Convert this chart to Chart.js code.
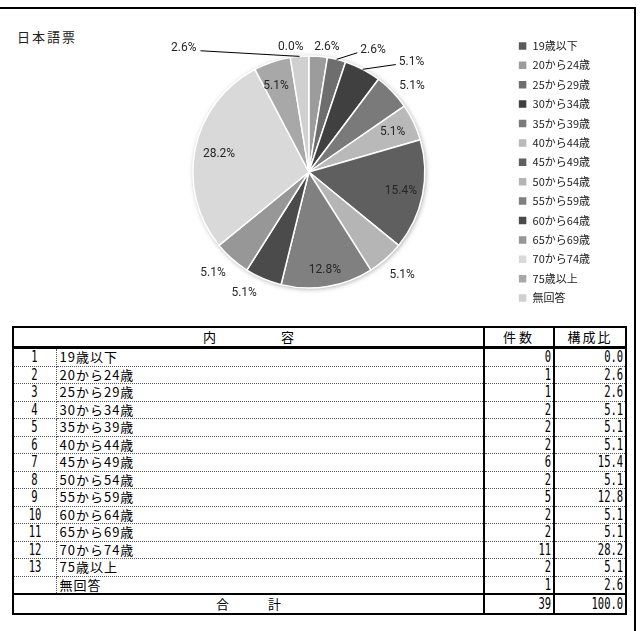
<!DOCTYPE html>
<html>
<head>
<meta charset="utf-8">
<script src="https://cdn.jsdelivr.net/npm/chart.js@4"></script>
<style>
  html, body { margin:0; padding:0; background:#fff; }
  body { width:640px; height:631px; position:relative; overflow:hidden; }
  .frame { position:absolute; left:-4px; top:7px; width:640px; height:640px; box-sizing:border-box;
           border-top:2px solid #000; border-right:2px solid #000; }
  .ttl { position:absolute; left:17px; top:27px; font:13px "Noto Sans CJK JP"; letter-spacing:2px; color:#222; line-height:19px; }
  #wrap { position:absolute; left:0; top:9px; width:636px; height:310px; }
  table.tbl { position:absolute; left:12px; top:326px; width:613px; border-collapse:collapse; table-layout:fixed;
              border:2px solid #000; font:13px "Noto Sans CJK JP"; color:#000; }
  .tbl th { font-weight:normal; height:18px; padding:0; line-height:18px; border-bottom:3px solid #000; }
  .tbl td { height:16.5px; padding:0 2px; line-height:16px; border-bottom:1px dotted #555; white-space:nowrap; }
  .tbl .c1 { text-align:center; border-right:1px dotted #555; padding:0; font-family:"DejaVu Sans Mono"; font-size:15px; }
  .tbl .c1 .num { transform-origin:center center; }
  .tbl .c2 { letter-spacing:1px; padding-left:3px; }
  .tbl .c3, .tbl .c4 { text-align:right; border-left:2px solid #000; font-family:"DejaVu Sans Mono"; font-size:15px; }
  .tbl .num { display:inline-block; transform:scaleX(0.7); transform-origin:right center; }
  .tbl tr.last td { border-bottom:2px solid #000; }
  .tbl tr.sum td { border-bottom:none; height:18px; }
  .tbl th.h3, .tbl th.h4 { border-left:2px solid #000; }
</style>
</head>
<body>
<div class="frame"></div>
<div class="ttl">日本語票</div>
<div id="wrap"><canvas id="ch-pie" width="636" height="310"></canvas></div>
<table class="tbl" id="tbl"></table>
<script>
// ---- data ----
const categories = ['19歳以下','20から24歳','25から29歳','30から34歳','35から39歳','40から44歳','45から49歳',
                    '50から54歳','55から59歳','60から64歳','65から69歳','70から74歳','75歳以上','無回答'];
const counts = [0,1,1,2,2,2,6,2,5,2,2,11,2,1];
const sliceColors = ['#595959','#9c9c9c','#6e6e6e','#404040','#7a7a7a','#b9b9b9','#5f5f5f',
                     '#b5b5b5','#808080','#4b4b4b','#979797','#d9d9d9','#a8a8a8','#d0d0d0'];

// label placement: angle (deg, clockwise from top; null = middle of slice), radius factor, leader line
const labelPos = [
  {a:-8.2, f:1.09}, {a:8.2, f:1.09}, {a:27.7, f:1.19, lead:true}, {a:42.9, f:1.30, lead:true},
  {a:50.1, f:1.16}, {a:null, f:0.80}, {a:null, f:0.81}, {a:137.9, f:1.2}, {a:null, f:0.86},
  {a:208.2, f:1.18}, {a:223.5, f:1.2}, {a:null, f:0.79}, {a:339, f:0.79}, {a:314.8, f:1.52, lead:true}
];

const total = counts.reduce((s, v) => s + v, 0);
const pct = v => (v / total * 100).toFixed(1);

// soft shadow under the pie
const pieShadow = {
  id:'pieShadow',
  beforeDatasetsDraw(chart){
    const arc = chart.getDatasetMeta(0).data[0];
    if (!arc) return;
    const ctx = chart.ctx;
    ctx.save();
    ctx.shadowColor = 'rgba(0,0,0,0.35)';
    ctx.shadowBlur = 5;
    ctx.shadowOffsetX = 1;
    ctx.shadowOffsetY = 1;
    ctx.beginPath();
    ctx.arc(arc.x, arc.y, arc.outerRadius, 0, Math.PI * 2);
    ctx.fillStyle = '#ddd';
    ctx.fill();
    ctx.restore();
  }
};

// percentage labels with leader lines
const pieLabels = {
  id:'pieLabels',
  afterDatasetsDraw(chart){
    const ctx = chart.ctx;
    const arcs = chart.getDatasetMeta(0).data;
    ctx.save();
    ctx.font = '12px Roboto';
    ctx.fillStyle = '#262626';
    ctx.textAlign = 'center';
    ctx.textBaseline = 'middle';
    arcs.forEach((arc, i) => {
      const p = labelPos[i];
      const mid = (arc.startAngle + arc.endAngle) / 2;
      const ang = p.a === null ? mid : p.a * Math.PI / 180 - Math.PI / 2;
      const R = arc.outerRadius;
      const lx = arc.x + Math.cos(ang) * R * p.f;
      const ly = arc.y + Math.sin(ang) * R * p.f;
      const txt = pct(counts[i]) + '%';
      if (p.lead) {
        const hw = ctx.measureText(txt).width / 2;
        const sx = arc.x + Math.cos(mid) * R;
        const sy = arc.y + Math.sin(mid) * R;
        const ex = lx < arc.x ? lx + hw + 4 : lx - hw - 3;
        ctx.beginPath();
        ctx.moveTo(sx, sy);
        ctx.lineTo(ex, ly + 3);
        ctx.strokeStyle = '#000';
        ctx.lineWidth = 1;
        ctx.stroke();
      }
      ctx.fillText(txt, lx, ly);
    });
    ctx.restore();
  }
};

new Chart(document.getElementById('ch-pie'), {
  type:'pie',
  data:{
    labels:categories,
    datasets:[{data:counts, backgroundColor:sliceColors, borderColor:'#fff', borderWidth:1.5}]
  },
  options:{
    responsive:false, animation:false, devicePixelRatio:1,
    radius:116,
    layout:{padding:{left:108, right:36, top:16, bottom:0}},
    plugins:{
      legend:{position:'right', labels:{boxWidth:9, boxHeight:9, padding:8.4, color:'#222',
              font:{family:'"Noto Sans CJK JP"', size:11}}},
      tooltip:{enabled:false}
    }
  },
  plugins:[pieShadow, pieLabels]
});

// table under the chart
let h = '<colgroup><col style="width:43px"><col style="width:428px"><col style="width:70px"><col style="width:72px"></colgroup>';
h += '<tr><th colspan="2">内　　　　　容</th><th class="h3" style="letter-spacing:3px">件数</th><th class="h4" style="letter-spacing:2px">構成比</th></tr>';
categories.forEach((c, i) => {
  const no = i < categories.length - 1 ? (i + 1) : '';
  h += `<tr${i === categories.length - 1 ? ' class="last"' : ''}>
    <td class="c1"><span class="num">${no}</span></td><td class="c2">${c}</td>
    <td class="c3"><span class="num">${counts[i]}</span></td><td class="c4"><span class="num">${pct(counts[i])}</span></td></tr>`;
});
h += `<tr class="sum"><td colspan="2" style="text-align:center">合　　　計</td>
  <td class="c3"><span class="num">${total}</span></td><td class="c4"><span class="num">100.0</span></td></tr>`;
document.getElementById('tbl').innerHTML = h;
</script>
</body>
</html>
